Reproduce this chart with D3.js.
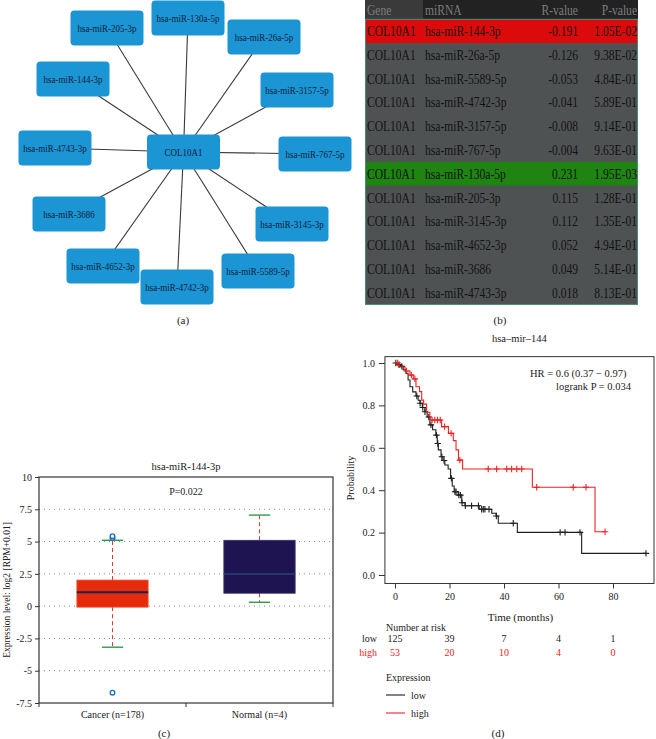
<!DOCTYPE html>
<html><head><meta charset="utf-8">
<script src="https://cdn.jsdelivr.net/npm/d3@7"></script>
<style>body{margin:0;background:#fff}svg{display:block}text{font-family:"Liberation Serif","Times New Roman",serif}</style>
</head><body><svg id="c" width="656" height="739"></svg>
<script>
// ---------- DATA ----------
const hubGene = "COL10A1";
const networkMirnas = ["hsa-miR-205-3p","hsa-miR-130a-5p","hsa-miR-26a-5p","hsa-miR-144-3p","hsa-miR-3157-5p","hsa-miR-4743-3p","hsa-miR-767-5p","hsa-miR-3686","hsa-miR-3145-3p","hsa-miR-4652-3p","hsa-miR-4742-3p","hsa-miR-5589-5p"];

const tableHeaders = ["Gene","miRNA","R-value","P-value"];
const tableGenes = ["COL10A1","COL10A1","COL10A1","COL10A1","COL10A1","COL10A1","COL10A1","COL10A1","COL10A1","COL10A1","COL10A1","COL10A1"];
const tableMirnas = ["hsa-miR-144-3p","hsa-miR-26a-5p","hsa-miR-5589-5p","hsa-miR-4742-3p","hsa-miR-3157-5p","hsa-miR-767-5p","hsa-miR-130a-5p","hsa-miR-205-3p","hsa-miR-3145-3p","hsa-miR-4652-3p","hsa-miR-3686","hsa-miR-4743-3p"];
const rValues = [-0.191,-0.126,-0.053,-0.041,-0.008,-0.004,0.231,0.115,0.112,0.052,0.049,0.018];
const pValues = [1.05e-2,9.38e-2,4.84e-1,5.89e-1,9.14e-1,9.63e-1,1.95e-3,1.28e-1,1.35e-1,4.94e-1,5.14e-1,8.13e-1];

const boxTitle = "hsa-miR-144-3p";
const boxPText = "P=0.022";
const boxGroups = ["Cancer (n=178)","Normal (n=4)"];
const boxQ1 = [-0.08, 1.0];
const boxMedian = [1.07, 2.48];
const boxQ3 = [2.02, 5.1];
const boxWhiskerLow = [-3.18, 0.3];
const boxWhiskerHigh = [5.1, 7.05];
const cancerOutliers = [5.28, 5.42, -6.7];
const boxYTicks = [-7.5,-5,-2.5,0,2.5,5,7.5,10];

const kmTitle = "hsa\u2013mir\u2013144";
const lowTimes = [0,1,2,3,4,4.8,5.5,6.5,7.7,8.5,9.2,10,11,11.8,12.8,13.8,15,15.5,15.9,16.9,17.6,18.3,19.5,20.4,21,21.7,23.2,24.5,25.7,30.9,35.5,37.1,37.9,44.9,68.5];
const lowSurv  = [1,0.992,0.984,0.968,0.952,0.92,0.888,0.864,0.844,0.824,0.81,0.79,0.77,0.745,0.708,0.685,0.66,0.62,0.59,0.558,0.54,0.519,0.5,0.456,0.42,0.393,0.377,0.341,0.327,0.31,0.291,0.278,0.244,0.201,0.102];
const lowEnd = 92.1;
const lowCensor = [0.3,1.5,2.5,8,9.2,10.2,11,12.4,13.2,15.2,15.7,17.2,18,20.7,22,22.4,23.4,24,24.6,25.8,28.1,30.6,31.8,32.4,33,34.5,37.2,43.4,60.6,62.4,67.9,92.1];
const highTimes = [0,1.5,3.7,5.5,6.7,7.7,9,9.8,10.5,11.6,12.8,17.1,19.6,21.4,22.4,23.3,24.8,50.4,73.4];
const highSurv  = [1,0.981,0.962,0.943,0.925,0.888,0.865,0.825,0.806,0.768,0.731,0.7,0.668,0.634,0.59,0.542,0.5,0.414,0.204];
const highEnd = 77.1;
const highCensor = [1,4.2,6,7.3,13.6,14.6,15.6,16.6,18.2,20.6,23.8,34.2,37.3,41,42.8,44.7,46.5,52,65.4,70.1,77.1];
const kmXTicks = [0,20,40,60,80];
const kmYTicks = [0,0.2,0.4,0.6,0.8,1.0];
const riskLow = [125,39,7,4,1];
const riskHigh = [53,20,10,4,0];
const hrText = "HR = 0.6 (0.37 \u2212 0.97)";
const logrankText = "logrank P = 0.034";

// ---------- LAYOUT (not data) ----------
const networkLayout = [[-76.5,-124],[4.5,-134],[80.5,-115],[-110.5,-73],[113.5,-62],[-128.5,-4],[131.5,2],[-114.5,62],[108.5,72],[-80.5,114],[-6.5,135],[74.5,119]];

const svg = d3.select("#c");
const SERIF = "'Liberation Serif','Times New Roman',serif";

// ---------- (a) network ----------
(function(){
  const g = svg.append("g");
  const hub = {x:183.5, y:152};
  const W = 73, H = 35;
  const nodes = networkMirnas.map((m,i)=>({name:m, x:hub.x+networkLayout[i][0], y:hub.y+networkLayout[i][1]}));
  g.selectAll("line.e").data(nodes).join("line")
    .attr("x1",hub.x).attr("y1",hub.y).attr("x2",d=>d.x).attr("y2",d=>d.y)
    .attr("stroke","#3a3a3a").attr("stroke-width",1.1);
  const all = nodes.concat([{name:hubGene,x:hub.x,y:hub.y}]);
  const ng = g.selectAll("g.n").data(all).join("g").attr("transform",d=>`translate(${d.x},${d.y})`);
  ng.append("rect").attr("x",-W/2).attr("y",-H/2).attr("width",W).attr("height",H).attr("rx",4)
    .attr("fill","#1b95d3");
  ng.append("text").attr("text-anchor","middle").attr("dy","0.35em").attr("transform","scale(0.9,1)")
    .attr("font-size",10).attr("fill","#14213a").text(d=>d.name);
  svg.append("text").attr("x",183).attr("y",324).attr("text-anchor","middle").attr("font-size",11).attr("fill","#222").text("(a)");
})();

// ---------- (b) table ----------
(function(){
  const g = svg.append("g");
  const L = 365, R = 638, headH = 19.3, rowH = 23.77;
  const rows = tableMirnas.map((m,i)=>({gene:tableGenes[i], mirna:m, r:rValues[i], p:pValues[i]}));
  const yRow = d3.scaleBand().domain(d3.range(rows.length)).range([headH, headH+rowH*rows.length]);
  const fmtP = v => { const s = v.toExponential(2).split("e"); const e = +s[1]; return s[0]+"E"+(e<0?"-":"+")+String(Math.abs(e)).padStart(2,"0"); };
  const fmtR = v => v.toFixed(3);
  g.append("rect").attr("x",L).attr("y",0).attr("width",R-L).attr("height",headH).attr("fill","#222222");
  g.append("rect").attr("x",L).attr("y",0).attr("width",58).attr("height",headH).attr("fill","#3a3a3a");
  g.append("rect").attr("x",L).attr("y",headH).attr("width",R-L).attr("height",rowH*rows.length).attr("fill","#4f5252");
  const color = d => d.p < 0.05 ? (d.r < 0 ? "#dc0b0b" : "#1f8412") : null;
  g.selectAll("rect.hl").data(rows.filter(d=>color(d))).join("rect")
    .attr("x",L).attr("y",d=>yRow(rows.indexOf(d))).attr("width",R-L).attr("height",rowH).attr("fill",color);
  g.append("rect").attr("x",L+0.5).attr("y",headH).attr("width",R-L-1).attr("height",rowH*rows.length)
    .attr("fill","none").attr("stroke","#4e8a7a").attr("stroke-width",1);
  const cols = [{x:367,a:"start",f:d=>d.gene},{x:425,a:"start",f:d=>d.mirna},{x:578,a:"end",f:d=>fmtR(d.r)},{x:637,a:"end",f:d=>fmtP(d.p)}];
  const put = (x,y,a,t,fill)=> g.append("text").attr("transform",`translate(${x},${y}) scale(0.77,1)`)
      .attr("text-anchor",a).attr("font-size",15).attr("fill",fill).text(t);
  cols.forEach((c,ci)=>{
    put(c.x, 15, c.a, tableHeaders[ci], "#7d7d7d");
    rows.forEach((d,i)=> put(c.x, yRow(i)+rowH/2+5, c.a, c.f(d), "#121212"));
  });
  svg.append("text").attr("x",500).attr("y",324).attr("text-anchor","middle").attr("font-size",11).attr("fill","#222").text("(b)");
})();

// ---------- (c) box plot ----------
(function(){
  const g = svg.append("g");
  const left = 39, right = 333, top = 477, bottom = 703;
  const y = d3.scaleLinear().domain([-7.5,10]).range([bottom, top]);
  const x = d3.scaleBand().domain(boxGroups).range([left,right]);
  g.selectAll("line.grid").data(boxYTicks.filter(v=>v>-7.5 && v<10)).join("line")
    .attr("x1",left).attr("x2",right).attr("y1",d=>y(d)).attr("y2",d=>y(d))
    .attr("stroke","#8a8a8a").attr("stroke-width",1).attr("stroke-dasharray","1,4");
  g.append("rect").attr("x",left).attr("y",top).attr("width",right-left).attr("height",bottom-top)
    .attr("fill","none").attr("stroke","#333").attr("stroke-width",1.2);
  const ya = g.append("g").attr("transform",`translate(${left},0)`)
    .call(d3.axisLeft(y).tickValues(boxYTicks).tickFormat(d=>String(d)).tickSize(4).tickPadding(3));
  ya.select(".domain").remove();
  ya.selectAll("line").attr("stroke","#333");
  ya.selectAll("text").attr("font-family",SERIF).attr("font-size",10).attr("fill","#222");
  g.selectAll("line.xt").data([left,(left+right)/2,right]).join("line")
    .attr("x1",d=>d).attr("x2",d=>d).attr("y1",bottom).attr("y2",bottom+4).attr("stroke","#333");
  g.selectAll("text.xl").data(boxGroups).join("text")
    .attr("x",d=>x(d)+x.bandwidth()/2).attr("y",bottom+15).attr("text-anchor","middle")
    .attr("font-size",10).attr("fill","#222").text(d=>d);
  const bw = x.bandwidth()*0.485, cw = x.bandwidth()*0.145;
  const fills = ["#e62b0c","#1f1452"], meds = ["#14264d","#26366e"];
  boxGroups.forEach((grp,i)=>{
    const cx = x(grp)+x.bandwidth()/2;
    [[boxQ3[i],boxWhiskerHigh[i]],[boxQ1[i],boxWhiskerLow[i]]].forEach(([a,b])=>{
      g.append("line").attr("x1",cx).attr("x2",cx).attr("y1",y(a)).attr("y2",y(b))
        .attr("stroke","#d93a2e").attr("stroke-width",1).attr("stroke-dasharray","4,3");
      g.append("line").attr("x1",cx-cw/2).attr("x2",cx+cw/2).attr("y1",y(b)).attr("y2",y(b))
        .attr("stroke","#2f9a4c").attr("stroke-width",1.4);
    });
    g.append("rect").attr("x",cx-bw/2).attr("y",y(boxQ3[i])).attr("width",bw).attr("height",y(boxQ1[i])-y(boxQ3[i]))
      .attr("fill",fills[i]).attr("stroke",i===0?"#f05a3c":"#3a3070").attr("stroke-width",0.8);
    g.append("line").attr("x1",cx-bw/2).attr("x2",cx+bw/2).attr("y1",y(boxMedian[i])).attr("y2",y(boxMedian[i]))
      .attr("stroke",meds[i]).attr("stroke-width",2);
  });
  const c0 = x(boxGroups[0])+x.bandwidth()/2;
  g.selectAll("circle.o").data(cancerOutliers).join("circle")
    .attr("cx",c0).attr("cy",d=>y(d)).attr("r",2.3).attr("fill","#fff").attr("stroke","#1f6fc2").attr("stroke-width",1.4);
  g.append("text").attr("x",(left+right)/2).attr("y",470).attr("text-anchor","middle").attr("font-size",10.5).attr("fill","#222").text(boxTitle);
  g.append("text").attr("x",(left+right)/2).attr("y",495).attr("text-anchor","middle").attr("font-size",10).attr("fill","#222").text(boxPText);
  g.append("text").attr("transform","translate(10,590) rotate(-90)").attr("text-anchor","middle")
    .attr("font-size",9.5).attr("fill","#222").text("Expression level: log2 [RPM+0.01]");
  svg.append("text").attr("x",164).attr("y",737).attr("text-anchor","middle").attr("font-size",11).attr("fill","#222").text("(c)");
})();

// ---------- (d) Kaplan-Meier ----------
(function(){
  const g = svg.append("g");
  const x = d3.scaleLinear().domain([0,80]).range([395,613]);
  const y = d3.scaleLinear().domain([0,1]).range([575,363]);
  const fx0 = x(-3.7), fx1 = 654, fy0 = y(-0.04), fy1 = y(1.03);
  g.append("rect").attr("x",fx0).attr("y",fy1).attr("width",fx1-fx0).attr("height",fy0-fy1)
    .attr("fill","none").attr("stroke","#333").attr("stroke-width",1);
  const xa = g.append("g").attr("transform",`translate(0,${fy0})`)
    .call(d3.axisBottom(x).tickValues(kmXTicks).tickFormat(d3.format("d")).tickSize(5).tickPadding(4));
  xa.select(".domain").remove();
  xa.selectAll("line").attr("stroke","#333");
  xa.selectAll("text").attr("font-family",SERIF).attr("font-size",10).attr("fill","#222");
  const ya = g.append("g").attr("transform",`translate(${fx0},0)`)
    .call(d3.axisLeft(y).tickValues(kmYTicks).tickFormat(d3.format(".1f")).tickSize(6).tickPadding(4));
  ya.select(".domain").remove();
  ya.selectAll("line").attr("stroke","#333");
  ya.selectAll("text").attr("font-family",SERIF).attr("font-size",10).attr("fill","#222");
  g.append("text").attr("transform","translate(354,478) rotate(-90)").attr("text-anchor","middle")
    .attr("font-size",10).attr("fill","#222").text("Probability");
  g.append("text").attr("x",(fx0+fx1)/2+1).attr("y",621).attr("text-anchor","middle").attr("font-size",11).attr("fill","#222").text("Time (months)");
  g.append("text").attr("x",(fx0+fx1)/2).attr("y",342).attr("text-anchor","middle").attr("font-size",10.5).attr("fill","#222").text(kmTitle);
  g.append("text").attr("x",530).attr("y",377).attr("font-size",10.5).attr("fill","#222").text(hrText);
  g.append("text").attr("x",556).attr("y",390).attr("font-size",10.5).attr("fill","#222").text(logrankText);

  const line = d3.line().x(d=>x(d[0])).y(d=>y(d[1])).curve(d3.curveStepAfter);
  const curves = [
    {t:lowTimes, s:lowSurv, end:lowEnd, c:lowCensor, col:"#1e1e1e"},
    {t:highTimes, s:highSurv, end:highEnd, c:highCensor, col:"#ee2222"}
  ];
  curves.forEach(cv=>{
    const pts = cv.t.map((t,i)=>[t,cv.s[i]]);
    pts.push([cv.end, cv.s[cv.s.length-1]]);
    g.append("path").attr("d",line(pts)).attr("fill","none").attr("stroke",cv.col).attr("stroke-width",1.1);
    const sAt = t => { let v = cv.s[0]; cv.t.forEach((tt,i)=>{ if (tt<=t) v = cv.s[i]; }); return v; };
    const k = 3.2;
    g.selectAll(null).data(cv.c).join("path")
      .attr("d",t=>{const px=x(t), py=y(sAt(t)); return `M${px-k},${py}H${px+k}M${px},${py-k}V${py+k}`;})
      .attr("stroke",cv.col).attr("stroke-width",1.1).attr("fill","none");
  });
  g.append("text").attr("x",386).attr("y",631).attr("font-size",10).attr("fill","#222").text("Number at risk");
  [[riskLow,"low","#222",642],[riskHigh,"high","#ee2222",656]].forEach(([vals,lab,col,yy])=>{
    g.append("text").attr("x",377).attr("y",yy).attr("text-anchor","end").attr("font-size",10).attr("fill",col).text(lab);
    g.selectAll(null).data(vals).join("text").attr("x",(d,i)=>x(kmXTicks[i])).attr("y",yy)
      .attr("text-anchor","middle").attr("font-size",10).attr("fill",col).text(d=>d);
  });
  g.append("text").attr("x",386).attr("y",681).attr("font-size",10).attr("fill","#222").text("Expression");
  [["low","#1e1e1e",695],["high","#ee2222",713]].forEach(([lab,col,yy])=>{
    g.append("line").attr("x1",386).attr("x2",405).attr("y1",yy).attr("y2",yy).attr("stroke",col).attr("stroke-width",1.1);
    g.append("text").attr("x",411).attr("y",yy+3.5).attr("font-size",10).attr("fill","#222").text(lab);
  });
  svg.append("text").attr("x",498).attr("y",737).attr("text-anchor","middle").attr("font-size",11).attr("fill","#222").text("(d)");
})();
</script></body></html>
